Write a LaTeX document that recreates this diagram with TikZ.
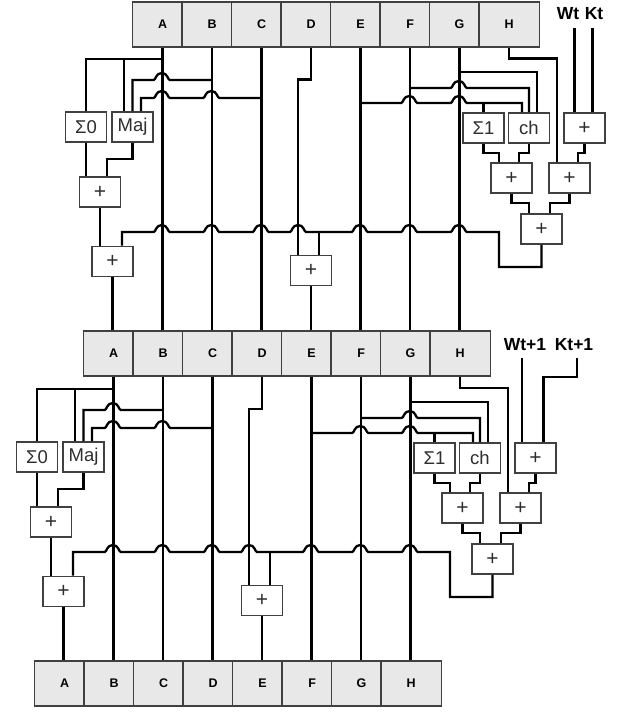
\documentclass[tikz,border=0pt]{standalone}
\usepackage{fontspec}
\setmainfont{Liberation Sans}
\tikzset{
  wire/.style={line width=2.3pt, draw=black},
  reg/.style={draw=black!75, fill=black!9, line width=1.7pt, minimum width=49.5pt,
    minimum height=45pt, inner sep=0pt, anchor=north west,
    font=\fontsize{12.5}{12}\selectfont\bfseries, text=black},
  fbox/.style={draw=black!75, fill=white, line width=1.8pt, minimum width=41pt,
    minimum height=30pt, inner sep=0pt, font=\fontsize{18.5}{18}\selectfont, text=black!82},
  wk/.style={inner sep=0pt, font=\fontsize{17.5}{18}\selectfont\bfseries},
  hopl/.style 2 args={insert path={-- (#1+8,#2) .. controls (#1+6,#2) and (#1+6,#2-7) .. (#1,#2-7)
      .. controls (#1-6,#2-7) and (#1-6,#2) .. (#1-8,#2)}},
  hopr/.style 2 args={insert path={-- (#1-8,#2) .. controls (#1-6,#2) and (#1-6,#2-7) .. (#1,#2-7)
      .. controls (#1+6,#2-7) and (#1+6,#2) .. (#1+8,#2)}},
}
\newcommand\plussign{{\fontsize{21}{18}\selectfont +}}
\newcommand\regrow[3]{%
  \foreach \l [count=\i from 0] in {A,B,C,D,E,F,G}{%
    \node[reg] (#1\l) at (#2+\i*49.5,#3) {\hspace*{11pt}\l};}
  \node[reg, minimum width=60.5pt] (#1H) at (#2+346.5,#3) {H};
}
\newcommand\halfsha[4]{%
  \node[fbox] (#3S0) at (86,127) {Σ0};
  \node[fbox] (#3Maj) at (132.5,127) {Maj};
  \node[fbox] (#3P1) at (100,192) {\plussign};
  \node[fbox] (#3PA) at (112.5,261.5) {\plussign};
  \node[fbox] (#3PE) at (311,270.5) {\plussign};
  \node[fbox] (#3S1) at (483.5,128) {Σ1};
  \node[fbox] (#3Ch) at (529,128) {ch};
  \node[fbox] (#3PW) at (584.5,128) {\plussign};
  \node[fbox] (#3P3) at (511.5,178) {\plussign};
  \node[fbox] (#3P4) at (569.5,178) {\plussign};
  \node[fbox] (#3P5) at (541.5,229) {\plussign};
  \foreach \l in {A,B,C,D,E,F,G}{\path ([xshift=5.5pt]#1\l.south) coordinate (#3c\l);}
  \path (#1H.south) coordinate (#3cH);
  % pass-through columns
  \draw[wire] (#3cA) -- (#3cA |- #2B.north);
  \draw[wire] (#3cB) -- (#3cB |- #2C.north);
  \draw[wire] (#3cC) -- (#3cC |- #2D.north);
  \draw[wire] (#3cE) -- (#3cE |- #2F.north);
  \draw[wire] (#3cF) -- (#3cF |- #2G.north);
  \draw[wire] (#3cG) -- (#3cG |- #2H.north);
  % D to adder
  \draw[wire] (#3cD) -- ++(0,32) -| ([xshift=-13pt]#3PE.north);
  % Sigma0 / Maj inputs
  \draw[wire] (161.75,59) -| (#3S0.north);
  \draw[wire] (161.75,59) -| ([xshift=-8.5pt]#3Maj.north);
  \draw[wire] (211.25,80) [hopl={161.75}{80}] -| (#3Maj.north);
  \draw[wire] (260.75,98) [hopl={211.25}{98}] [hopl={161.75}{98}] -| ([xshift=8.5pt]#3Maj.north);
  % left adders
  \draw[wire] (#3S0.south) -- (#3S0.south |- #3P1.north);
  \draw[wire] (#3Maj.south) -- ++(0,16) -| ([xshift=7pt]#3P1.north);
  \draw[wire] (#3P1.south) -- (#3P1.south |- #3PA.north);
  \draw[wire] (#3PA.south) -- (#3PA.south |- #2A.north);
  \draw[wire] (#3PE.south) -- (#3PE.south |- #2E.north);
  % Sigma1 / ch inputs
  \draw[wire] (#3cH) -- ++(0,11) -| ([xshift=-12.5pt]#3P4.north);
  \draw[wire] (458.75,72) -| ([xshift=8pt]#3Ch.north);
  \draw[wire] (409.25,88) [hopr={458.75}{88}] -| (#3Ch.north);
  \draw[wire] (359.75,103) [hopr={409.25}{103}] [hopr={458.75}{103}] -| ([xshift=-7pt]#3Ch.north);
  \draw[wire] (470,103) -| (#3S1.north);
  % right adders
  \draw[wire] (#3S1.south) -- ++(0,9) -| ([xshift=-12.5pt]#3P3.north);
  \draw[wire] (#3Ch.south) -- ++(0,9) -| ([xshift=7.5pt]#3P3.north);
  \draw[wire] (#3PW.south) -- ++(0,9) -| ([xshift=8.5pt]#3P4.north);
  \draw[wire] (#3P3.south) -- ++(0,9) -| ([xshift=-12.5pt]#3P5.north);
  \draw[wire] (#3P4.south) -- ++(0,9) -| ([xshift=8.5pt]#3P5.north);
  % T1 feedback line
  \draw[wire] (#3P5.south) -- ++(0,22) -| (499,#4)
     [hopl={458.75}{#4}] [hopl={409.25}{#4}] [hopl={359.75}{#4}] [hopl={298}{#4}]
     [hopl={260.75}{#4}] [hopl={211.25}{#4}] [hopl={161.75}{#4}]
     -| ([xshift=9.5pt]#3PA.north);
  \draw[wire] (312,#4) -| ([xshift=8pt]#3PE.north);
}
\begin{document}
\begin{tikzpicture}[x=1pt,y=-1pt]
\useasboundingbox (0,0) rectangle (626,712);
\regrow{t}{131.5}{0.9}
\regrow{m}{82.5}{330}
\regrow{b}{33.5}{660}
\halfsha{t}{m}{u}{232}
\begin{scope}[shift={(-49,330)}]
  \halfsha{m}{b}{l}{222}
\end{scope}
% W and K inputs
\node[wk] (Wt) at (568,14) {Wt};
\node[wk] (Kt) at (594,14) {Kt};
\coordinate (wt0) at (574.5,28);
\coordinate (kt0) at (592.5,28);
\draw[wire] (wt0) -- (wt0 |- uPW.north);
\draw[wire] (kt0) -- (kt0 |- uPW.north);
\node[wk] (Wt1) at (525,345) {Wt+1};
\node[wk] (Kt1) at (574,345) {Kt+1};
\coordinate (wt1) at (522,358);
\coordinate (kt1) at (577,358);
\draw[wire] (wt1) -- (wt1 |- lPW.north);
\draw[wire] (kt1) -- ++(0,19) -| ([xshift=8pt]lPW.north);
\end{tikzpicture}
\end{document}
